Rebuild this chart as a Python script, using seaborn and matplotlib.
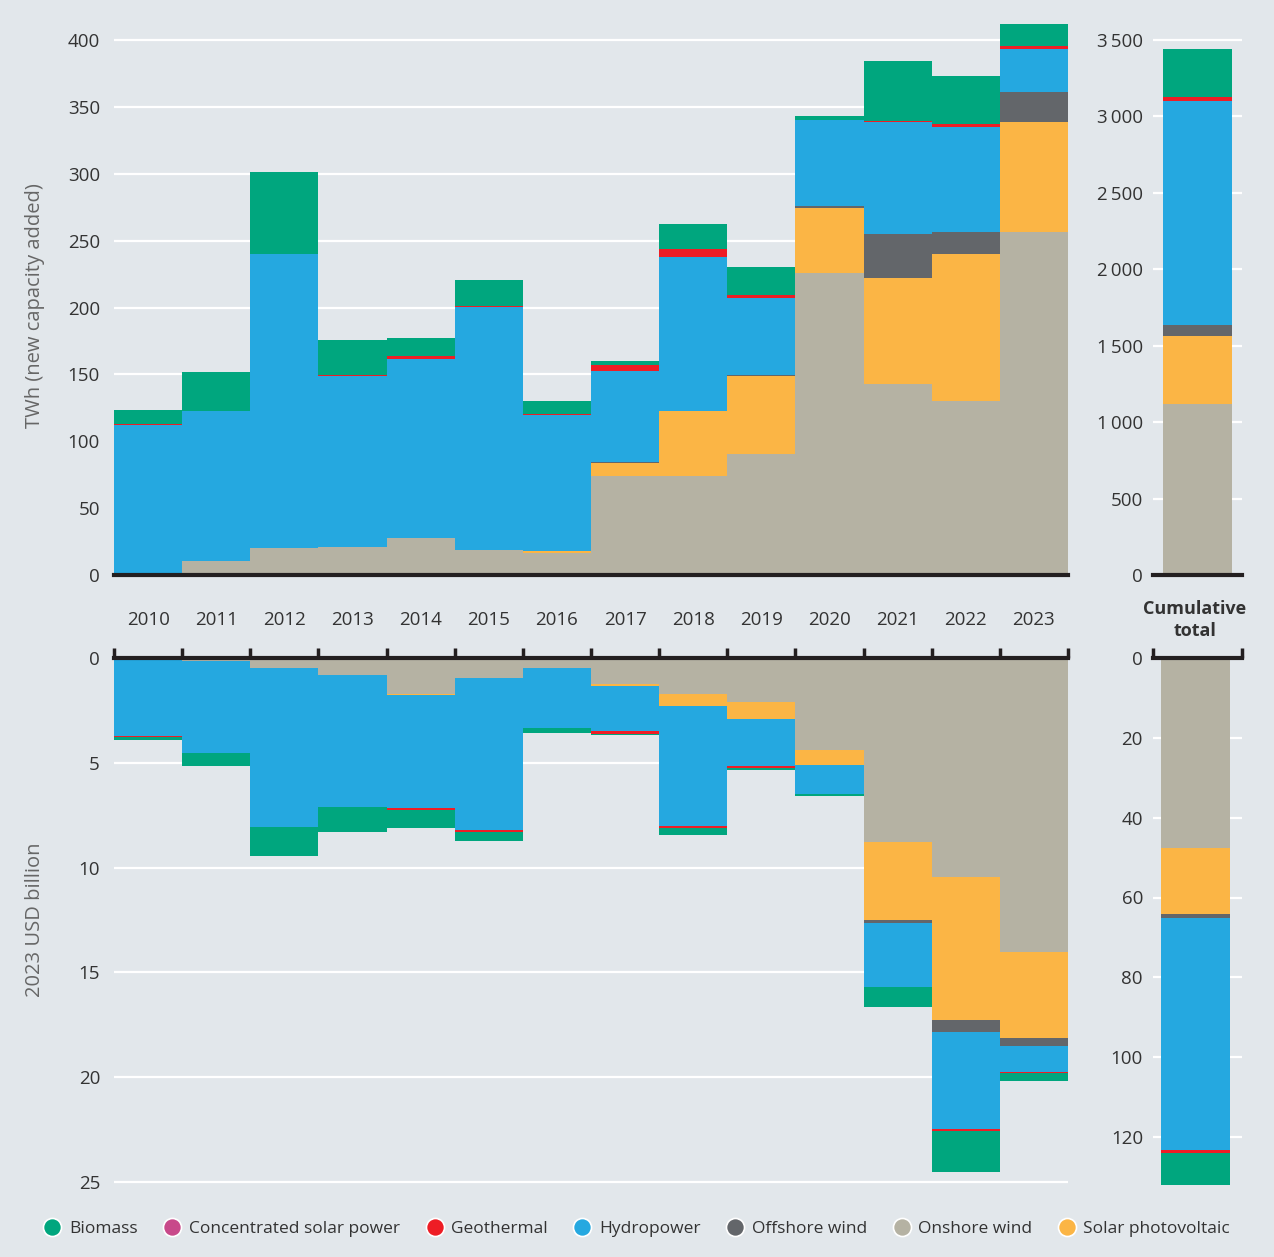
import numpy as np
import pandas as pd
import matplotlib
matplotlib.use("Agg")
import matplotlib.pyplot as plt
import seaborn as sns
from matplotlib.lines import Line2D

# ---------------- data ----------------
years = ["2010", "2011", "2012", "2013", "2014", "2015", "2016",
         "2017", "2018", "2019", "2020", "2021", "2022", "2023"]

techs = ["Biomass", "Concentrated solar power", "Geothermal", "Hydropower",
         "Offshore wind", "Onshore wind", "Solar photovoltaic"]

# TWh (new capacity added)
onshore_twh = [0.5, 10.3, 20.0, 20.9, 27.5, 18.4, 16.2, 74.0, 74.0, 90.5, 225.8, 143.0, 130.4, 256.5]
solar_twh = [0, 0, 0, 0, 0, 0.3, 1.9, 9.5, 49.0, 58.0, 48.4, 78.9, 109.6, 82.1]
offshore_twh = [0, 0, 0, 0, 0, 0, 0, 1.0, 0, 0.8, 1.7, 32.9, 16.5, 22.4]
hydro_twh = [112.0, 112.3, 219.9, 127.7, 133.8, 181.6, 101.6, 68.0, 114.5, 57.5, 64.1, 83.8, 78.2, 32.1]
geo_twh = [0.5, 0, 0, 1.1, 2.2, 0.6, 0.5, 4.5, 6.0, 2.8, 0.3, 0.8, 2.5, 2.2]
csp_twh = [0, 0, 0, 0, 0, 0, 0, 0, 0, 0, 0, 0, 0, 0]
biomass_twh = [10.5, 29.1, 61.4, 26.0, 13.6, 20.0, 10.0, 3.0, 19.3, 21.0, 3.0, 44.8, 35.7, 16.8]

# 2023 USD billion
onshore_usd = [0, 0.13, 0.46, 0.79, 1.70, 0.94, 0.46, 1.24, 1.70, 2.09, 4.37, 8.77, 10.43, 14.04]
solar_usd = [0, 0, 0, 0, 0.08, 0, 0, 0.09, 0.58, 0.80, 0.72, 3.71, 6.86, 4.10]
offshore_usd = [0, 0, 0, 0, 0, 0, 0, 0, 0, 0, 0, 0.18, 0.57, 0.35]
hydro_usd = [3.70, 4.38, 7.62, 6.34, 5.39, 7.28, 2.86, 2.14, 5.75, 2.25, 1.38, 3.02, 4.63, 1.27]
geo_usd = [0.06, 0, 0, 0, 0.10, 0.10, 0, 0.14, 0.06, 0.09, 0, 0, 0.06, 0.05]
csp_usd = [0, 0, 0, 0, 0, 0, 0, 0, 0, 0, 0, 0, 0, 0]
biomass_usd = [0.17, 0.66, 1.38, 1.19, 0.86, 0.43, 0.24, 0.08, 0.37, 0.10, 0.10, 0.95, 1.98, 0.39]

# cumulative totals (order: biomass, csp, geothermal, hydro, offshore, onshore, solar)
cum_twh = [313, 0, 27, 1465, 73, 1119, 443]
cum_usd = [8.0, 0, 0.9, 58.0, 1.0, 47.6, 16.6]

twh_top_ticks = [0, 50, 100, 150, 200, 250, 300, 350, 400]
cum_top_ticks = [0, 500, 1000, 1500, 2000, 2500, 3000, 3500]
cum_top_labels = ["0", "500", "1\u2009000", "1\u2009500", "2\u2009000", "2\u2009500", "3\u2009000", "3\u2009500"]
usd_ticks = [0, 5, 10, 15, 20, 25]
cum_usd_ticks = [0, 20, 40, 60, 80, 100, 120]

colors = {
    "Biomass": "#00A67E",
    "Concentrated solar power": "#C8498A",
    "Geothermal": "#EE1D25",
    "Hydropower": "#25A8E0",
    "Offshore wind": "#63666A",
    "Onshore wind": "#B5B2A3",
    "Solar photovoltaic": "#FBB545",
}
# seaborn stacks the last hue level at the bottom
stack_order = ["Biomass", "Concentrated solar power", "Geothermal", "Hydropower",
               "Offshore wind", "Solar photovoltaic", "Onshore wind"]

series_twh = {"Biomass": biomass_twh, "Concentrated solar power": csp_twh, "Geothermal": geo_twh,
              "Hydropower": hydro_twh, "Offshore wind": offshore_twh, "Onshore wind": onshore_twh,
              "Solar photovoltaic": solar_twh}
series_usd = {"Biomass": biomass_usd, "Concentrated solar power": csp_usd, "Geothermal": geo_usd,
              "Hydropower": hydro_usd, "Offshore wind": offshore_usd, "Onshore wind": onshore_usd,
              "Solar photovoltaic": solar_usd}


def long_df(series):
    rows = []
    for t, vals in series.items():
        for i, v in enumerate(vals):
            rows.append({"x": i, "tech": t, "v": v})
    return pd.DataFrame(rows)


def cum_df(vals):
    return pd.DataFrame({"x": [0] * len(techs), "tech": techs, "v": vals})


# ---------------- style ----------------
BG = "#E2E7EB"
DARK = "#231F20"
TXT = "#333333"
sns.set_theme(style="white")
plt.rcParams["font.family"] = ["Open Sans", "DejaVu Sans"]

W, H = 1274, 1257
fig = plt.figure(figsize=(W / 100, H / 100), dpi=100, facecolor=BG)


def add_ax(l, r, t, b):
    return fig.add_axes([l / W, 1 - b / H, (r - l) / W, (b - t) / H])


ax_tl = add_ax(114, 1068, 20, 575)
ax_tr = add_ax(1153, 1242, 20, 575)
ax_bl = add_ax(114, 1068, 658, 1195)
ax_br = add_ax(1153, 1242, 658, 1195)

for ax, data in [(ax_tl, long_df(series_twh)), (ax_bl, long_df(series_usd)),
                 (ax_tr, cum_df(cum_twh)), (ax_br, cum_df(cum_usd))]:
    ax.set_facecolor(BG)
    sns.histplot(data=data, x="x", weights="v", hue="tech", hue_order=stack_order,
                 palette=colors, multiple="stack", discrete=True, shrink=1,
                 linewidth=0, alpha=1, legend=False, ax=ax, zorder=2)
    ax.set_xlabel("")
    ax.set_ylabel("")
    for s in ax.spines.values():
        s.set_visible(False)
    ax.set_axisbelow(True)
    ax.yaxis.grid(True, color="white", linewidth=1.6)
    ax.xaxis.grid(False)

# limits
ax_tl.set_xlim(-0.5, 13.5)
ax_bl.set_xlim(-0.5, 13.5)
ax_tl.set_ylim(0, 415)
ax_tr.set_ylim(0, 3500 * 555 / 535)
ax_bl.set_ylim(25 * 537 / 524, 0)
ax_br.set_ylim(120 * 537 / 479, 0)
ax_tr.set_xlim(-0.645, 0.645)
ax_br.set_xlim(-0.616, 0.674)

# y ticks
ax_tl.set_yticks(twh_top_ticks)
ax_tl.set_yticklabels([str(v) for v in twh_top_ticks])
ax_tr.set_yticks(cum_top_ticks)
ax_tr.set_yticklabels(cum_top_labels)
ax_bl.set_yticks(usd_ticks)
ax_bl.set_yticklabels([str(v) for v in usd_ticks])
ax_br.set_yticks(cum_usd_ticks)
ax_br.set_yticklabels([str(v) for v in cum_usd_ticks])
for ax, pad in [(ax_tl, 14), (ax_bl, 14), (ax_tr, 10), (ax_br, 10)]:
    ax.tick_params(axis="y", which="both", length=0, pad=pad * 0.72,
                   labelsize=13.5, labelcolor=TXT)

# x axes: top panels -> bottom spine with ticks at bar boundaries
bounds = np.arange(-0.5, 14.0, 1.0)
ax_tl.spines["bottom"].set_visible(True)
ax_tl.spines["bottom"].set_color(DARK)
ax_tl.spines["bottom"].set_linewidth(3)
ax_tl.spines["bottom"].set_zorder(5)
ax_tl.set_xticks(range(len(years)))
ax_tl.set_xticklabels(years)
ax_tl.set_xticks(bounds, minor=True)
ax_tl.tick_params(axis="x", which="major", length=0, pad=26, labelsize=13.5, labelcolor=TXT)
ax_tl.tick_params(axis="x", which="minor", length=7, width=2.5, color=DARK, direction="out")

ax_bl.spines["top"].set_visible(True)
ax_bl.spines["top"].set_color(DARK)
ax_bl.spines["top"].set_linewidth(3)
ax_bl.spines["top"].set_zorder(5)
ax_bl.set_xticks([])
ax_bl.set_xticks(bounds, minor=True)
ax_bl.tick_params(axis="x", which="minor", top=True, bottom=False, length=7, width=2.5,
                  color=DARK, direction="out")
ax_bl.tick_params(axis="x", which="major", labeltop=False, labelbottom=False, length=0)

ax_tr.spines["bottom"].set_visible(True)
ax_tr.spines["bottom"].set_color(DARK)
ax_tr.spines["bottom"].set_linewidth(3)
ax_tr.spines["bottom"].set_zorder(5)
ax_tr.set_xticks([])
ax_tr.set_xticks([-0.64, 0.64], minor=True)
ax_tr.tick_params(axis="x", which="minor", length=7, width=2.5, color=DARK, direction="out")

ax_br.spines["top"].set_visible(True)
ax_br.spines["top"].set_color(DARK)
ax_br.spines["top"].set_linewidth(3)
ax_br.spines["top"].set_zorder(5)
ax_br.set_xticks([])
ax_br.set_xticks([-0.611, 0.669], minor=True)
ax_br.tick_params(axis="x", which="minor", top=True, bottom=False, length=7, width=2.5,
                  color=DARK, direction="out")

# labels
fig.text(35 / W, 1 - 306 / H, "TWh (new capacity added)", rotation=90, ha="center",
         va="center", fontsize=14.5, color="#666666")
fig.text(35 / W, 1 - 920 / H, "2023 USD billion", rotation=90, ha="center",
         va="center", fontsize=14.5, color="#666666")
fig.text(1195 / W, 1 - 620 / H, "Cumulative\ntotal", ha="center", va="center",
         fontsize=13, fontweight="bold", color=TXT, linespacing=1.25)

# legend
handles = [Line2D([0], [0], marker="o", linestyle="none", markersize=13,
                  markerfacecolor=colors[t], markeredgecolor="white", markeredgewidth=1.2,
                  label=t) for t in techs]
fig.legend(handles=handles, loc="center", bbox_to_anchor=(0.5, 1 - 1229 / H), ncol=7,
           frameon=False, fontsize=12.5, handletextpad=0.45, columnspacing=1.5,
           labelcolor=TXT, handlelength=1.0)

fig.savefig("out.png", dpi=100, facecolor=BG)
